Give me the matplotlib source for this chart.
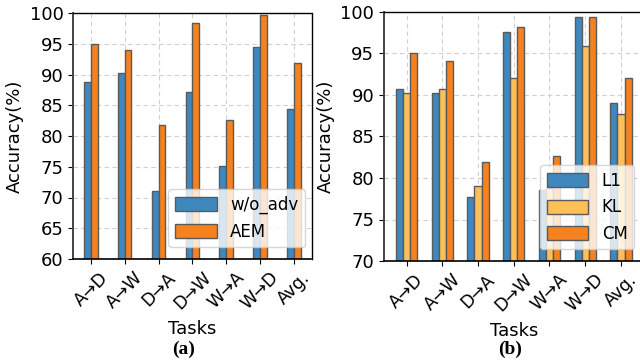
import matplotlib.pyplot as plt
import numpy as np

tasks = ["A→D", "A→W", "D→A", "D→W", "W→A", "W→D", "Avg."]

# (a) adversarial ablation
wo_adv = [88.8, 90.2, 71.1, 87.2, 75.1, 94.4, 84.4]
aem = [95.0, 94.0, 81.8, 98.3, 82.6, 99.6, 91.8]

# (b) discrepancy measures
l1 = [90.7, 90.3, 77.7, 97.6, 78.5, 99.4, 89.0]
kl = [90.2, 90.7, 79.0, 92.0, 78.8, 95.9, 87.7]
cm = [95.1, 94.1, 81.9, 98.2, 82.7, 99.4, 92.1]

blue = "#3f88bd"
orange = "#f5821f"
yellow = "#fdbf58"
edge = "#5a5a5a"

plt.rcParams['font.family'] = ['DejaVu Sans']

fig = plt.figure(figsize=(6.4, 3.62), dpi=100)
W, H = 640.0, 362.0


def style_axes(ax, ylo):
    ax.set_axisbelow(True)
    ax.grid(True, linestyle=(0, (4, 3)), color="#d0d0d0", linewidth=0.8)
    ax.set_ylim(ylo, 100)
    ax.set_xticks(np.arange(len(tasks)))
    ax.set_xticklabels(tasks, rotation=45, ha="center", fontsize=12.5)
    ax.tick_params(axis="y", labelsize=13)
    ax.set_ylabel("Accuracy(%)", fontsize=13)
    ax.set_xlabel("Tasks", fontsize=13, labelpad=5)
    ax.spines["left"].set_linewidth(1.4)
    ax.spines["left"].set_color("#444444")
    ax.spines["bottom"].set_linewidth(1.2)
    ax.spines["top"].set_linewidth(1.0)
    ax.spines["right"].set_linewidth(1.0)


x = np.arange(len(tasks))
w = 0.2

ax1 = fig.add_axes([73.3 / W, 1 - 259 / H, 238.2 / W, 246 / H])
ax1.bar(x - w / 2, wo_adv, w, color=blue, edgecolor=edge, linewidth=1, label="w/o_adv")
ax1.bar(x + w / 2, aem, w, color=orange, edgecolor=edge, linewidth=1, label="AEM")
style_axes(ax1, 60)
ax1.set_yticks(range(60, 101, 5))
ax1.legend(loc="lower right", fontsize=12, handlelength=2.5, handleheight=0.9,
           borderaxespad=0.4, bbox_to_anchor=(1.0, 0.02))

ax2 = fig.add_axes([384 / W, 1 - 261 / H, 259.5 / W, 249 / H])
ax2.bar(x - w, l1, w, color=blue, edgecolor=edge, linewidth=1, label="L1")
ax2.bar(x, kl, w, color=yellow, edgecolor=edge, linewidth=1, label="KL")
ax2.bar(x + w, cm, w, color=orange, edgecolor=edge, linewidth=1, label="CM")
style_axes(ax2, 70)
ax2.set_yticks(range(70, 101, 5))
ax2.legend(loc="lower right", fontsize=12, handlelength=2.5, handleheight=0.9,
           borderaxespad=0.4, bbox_to_anchor=(0.99, 0.02))

fig.text(184 / W, 1 - 349 / H, "(a)", ha="center", va="center",
         fontsize=14, fontweight="bold", family="Liberation Serif")
fig.text(510 / W, 1 - 349 / H, "(b)", ha="center", va="center",
         fontsize=14, fontweight="bold", family="Liberation Serif")

fig.savefig("out.png", dpi=100)
